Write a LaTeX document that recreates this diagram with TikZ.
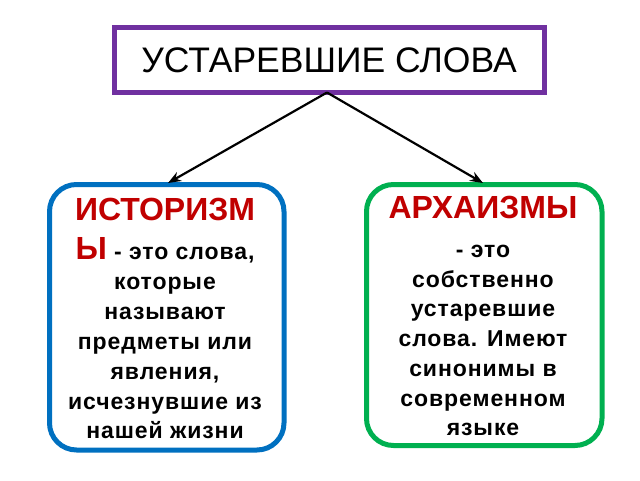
\documentclass[tikz,border=0pt]{standalone}
\usepackage{fontspec}
\setmainfont{Liberation Sans}
\newfontfamily\bodyfont[LetterSpace=4]{Liberation Sans}
\usetikzlibrary{arrows.meta}
\definecolor{ppl}{HTML}{7030A0}
\definecolor{blu}{HTML}{0070C0}
\definecolor{grn}{HTML}{00B050}
\definecolor{hred}{HTML}{C00000}
\newcommand{\hd}[1]{{\fontsize{32}{32}\selectfont\rmfamily\bfseries\color{hred}#1}}
\begin{document}
\begin{tikzpicture}[x=1pt,y=-1pt,
  topbox/.style={draw=ppl,line width=5pt,minimum width=430pt,minimum height=65pt,inner sep=0pt,
     font=\fontsize{35.5}{36}\selectfont},
  sidebox/.style={line width=5pt,rounded corners=27pt,inner sep=0pt},
  ln/.style={anchor=base,inner sep=0pt,font=\fontsize{23}{26}\selectfont\bodyfont\bfseries},
  arr/.style={-{Stealth[length=13pt,width=10pt]},line width=2.2pt,black}]
\useasboundingbox (0,0) rectangle (640,480);
\node[topbox] (top) at (329,60) {УСТАРЕВШИЕ СЛОВА};
\node[sidebox,draw=blu,minimum width=234.5pt,minimum height=265.5pt] (left) at (166.75,317.25) {};
\node[sidebox,draw=grn,minimum width=235.5pt,minimum height=261pt] (right) at (484.25,315) {};
\coordinate (s) at (327,92.5);
\draw[arr] (s) -- (168,183);
\draw[arr] (s) -- (483,183);
% left text
\node[ln] (l1) at (165,220) {\hd{ИСТОРИЗМ}};
\node[ln] (l2) at (165,259) {\hd{Ы} - это слова,};
\node[ln] (l3) at (165,289) {которые};
\node[ln] (l4) at (165,319) {называют};
\node[ln] (l5) at (165,349) {предметы или};
\node[ln] (l6) at (165,379) {явления,};
\node[ln] (l7) at (165,409) {исчезнувшие из};
\node[ln] (l8) at (165,438) {нашей жизни};
% right text
\node[ln] (r1) at (483,218) {\hd{АРХАИЗМЫ}};
\node[ln] (r2) at (483,257) {- это};
\node[ln] (r3) at (483,287) {собственно};
\node[ln] (r4) at (483,316) {устаревшие};
\node[ln] (r5) at (483,346) {слова. Имеют};
\node[ln] (r6) at (483,376) {синонимы в};
\node[ln] (r7) at (483,406) {современном};
\node[ln] (r8) at (483,435) {языке};
\end{tikzpicture}
\end{document}
